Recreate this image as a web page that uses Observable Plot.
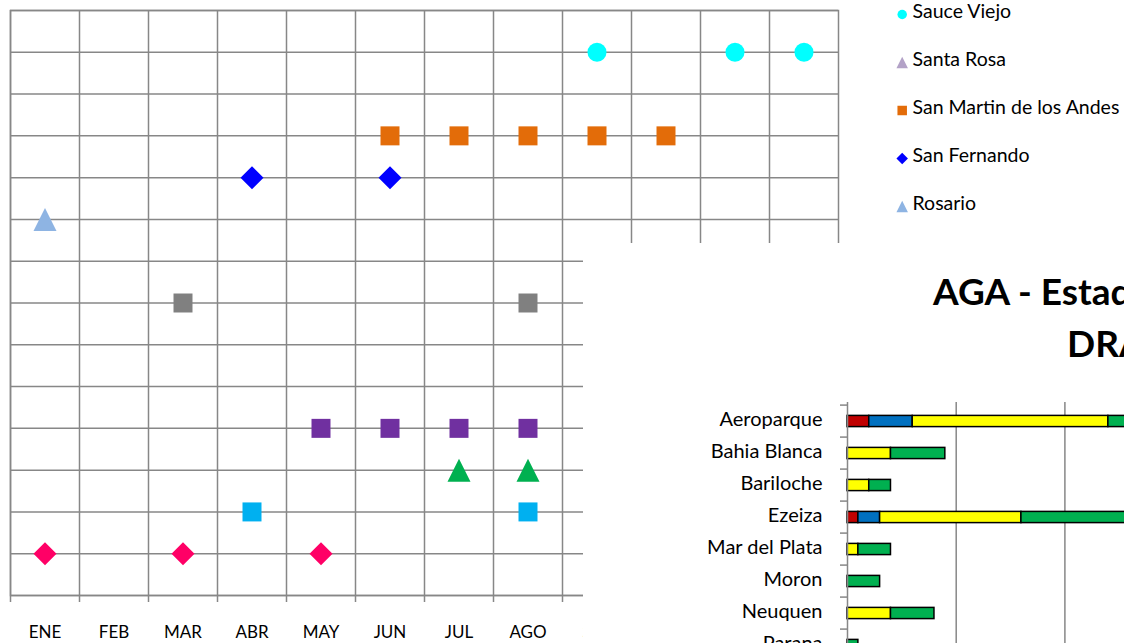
<!DOCTYPE html>
<html><head><meta charset="utf-8">
<script src="https://cdn.jsdelivr.net/npm/d3@7"></script>
<script src="https://cdn.jsdelivr.net/npm/@observablehq/plot@0.6"></script>
<style>
html,body{margin:0;padding:0;background:#fff;overflow:hidden}
#root{position:relative;width:1124px;height:643px;overflow:hidden;background:#fff;font-family:Lato,"Open Sans",sans-serif}
#root svg{position:absolute;left:0;top:0;font-family:Lato,"Open Sans",sans-serif;max-width:none !important;height:auto}
#scatter{position:absolute;left:0;top:0;width:860px;height:643px}
#legend{position:absolute;left:880px;top:0;width:244px;height:643px}
#panel{position:absolute;left:583px;top:243px;width:541px;height:400px;background:#fff}
#bars{position:absolute;left:0;top:0;width:760px;height:460px}
.t{position:absolute;font-family:Lato,sans-serif;font-weight:700;font-size:37px;white-space:nowrap;color:#000;line-height:1}
</style></head><body>
<div id="root"><div id="scatter"></div><div id="legend"></div><div id="panel"><div id="bars"></div><div class="t" id="t1"></div><div class="t" id="t2"></div></div></div>
<script>
// ---------- scatter chart data ----------
const months = ["ENE","FEB","MAR","ABR","MAY","JUN","JUL","AGO","SEP","OCT","NOV","DIC"];
const airports = ["Aeroparque","Bahia Blanca","Bariloche","Ezeiza","Mar del Plata","Moron","Neuquen","Parana","Rosario","San Fernando","San Martin de los Andes","Santa Rosa","Sauce Viejo"];
const airportRow = [1,2,3,4,5,6,7,8,9,10,11,12,13];
const airportColors = ["#FF0066","#00B0F0","#00B050","#7030A0","#FFC000","#C0504D","#808080","#4F81BD","#8EB4E3","#0000FF","#E36C09","#B3A2C7","#00FFFF"];
const airportShapes = ["diamond","square","triangle","square","diamond","circle","square","triangle","triangle","diamond","square","triangle","circle"];
const yTicks = [0,1,2,3,4,5,6,7,8,9,10,11,12,13,14];

const aeroparque = ["ENE","MAR","MAY"];
const bahiaBlanca = ["ABR","AGO"];
const bariloche = ["JUL","AGO"];
const ezeiza = ["MAY","JUN","JUL","AGO"];
const marDelPlata = [];
const moron = [];
const neuquen = ["MAR","AGO"];
const parana = [];
const rosario = ["ENE"];
const sanFernando = ["ABR","JUN"];
const sanMartin = ["JUN","JUL","AGO","SEP","OCT"];
const santaRosa = [];
const sauceViejo = ["SEP","NOV","DIC"];
const airportMonths = [aeroparque,bahiaBlanca,bariloche,ezeiza,marDelPlata,moron,neuquen,parana,rosario,sanFernando,sanMartin,santaRosa,sauceViejo];

// ---------- bar chart data ----------
const barCategories = ["Aeroparque","Bahia Blanca","Bariloche","Ezeiza","Mar del Plata","Moron","Neuquen","Parana"];
const barSeries = ["Categoria A","Categoria B","Categoria C","Categoria D"];
const barColors = ["#C00000","#0070C0","#FFFF00","#00B050"];
const serieA = [2,0,0,1,0,0,0,0];
const serieB = [4,0,0,2,0,0,0,0];
const serieC = [18,4,2,13,1,0,4,0];
const serieD = [14,5,2,16,3,3,4,1];
const barTicks = [0,10,20,30];
const titleLine1 = "AGA - Estadísticas de Aeródromos";
const titleLine2 = "DRA - Año";

// ---------- symbols (Excel-like) ----------
const shapeImpl = {
  circle: {draw(c, s){ const r = Math.sqrt(s/Math.PI)*0.95; c.moveTo(r,0); c.arc(0,0,r,0,2*Math.PI); c.closePath(); }},
  square: {draw(c, s){ const h = Math.sqrt(s/Math.PI)*0.95; c.rect(-h,-h,2*h,2*h); }},
  diamond: {draw(c, s){ const h = Math.sqrt(s/Math.PI)*1.15; c.moveTo(0,-h); c.lineTo(h,0); c.lineTo(0,h); c.lineTo(-h,0); c.closePath(); }},
  triangle: {draw(c, s){ const h = Math.sqrt(s/Math.PI)*1.15; c.moveTo(0,-h); c.lineTo(h,h); c.lineTo(-h,h); c.closePath(); }}
};
const symbolRange = airportShapes.map(k => shapeImpl[k]);

const points = [];
airports.forEach((a, i) => airportMonths[i].forEach(m => points.push({airport: a, month: m, row: airportRow[i]})));

const grid = "#878787";
const W1 = 860, mL = 10, mR = 22, mT = 10, mB = 48;
const step = (W1 - mL - mR) / months.length;

const scatter = Plot.plot({
  width: W1, height: 643, marginLeft: mL, marginRight: mR, marginTop: mT, marginBottom: mB,
  x: {type: "band", domain: months, padding: 0},
  y: {domain: [0, 14], axis: null},
  color: {domain: airports, range: airportColors},
  symbol: {domain: airports, range: symbolRange},
  marks: [
    Plot.ruleY(yTicks, {stroke: grid, strokeWidth: 1.5, strokeOpacity: 1}),
    Plot.ruleX(months, {x: d => d, dx: -step/2, stroke: grid, strokeWidth: 1.5, insetBottom: -7}),
    Plot.frame({stroke: grid, strokeWidth: 1.5}),
    Plot.axisX({tickSize: 0, tickPadding: 30, fontSize: 17, fill: "#000", label: null}),
    Plot.dot(points, {x: "month", y: "row", fill: "airport", symbol: "airport", r: 10, stroke: "none"})
  ]
});
document.getElementById("scatter").appendChild(scatter);

// legend (reverse order)
const legendOrder = airports.slice().reverse();
const legend = Plot.plot({
  width: 244, height: 643, margin: 0,
  x: {domain: [0, 1], axis: null},
  y: {type: "point", domain: legendOrder, padding: 0, range: [11, 11 + 48.5 * (legendOrder.length - 1)], axis: null},
  color: {domain: airports, range: airportColors},
  symbol: {domain: airports, range: symbolRange},
  marks: [
    Plot.dot(legendOrder, {y: d => d, frameAnchor: "left", dx: 21.7, fill: d => d, symbol: d => d, r: 5, stroke: "none"}),
    Plot.text(legendOrder, {y: d => d, text: d => d, frameAnchor: "left", dx: 32, dy: -2.5, textAnchor: "start", fontSize: 19.5, fill: "#000"})
  ]
});
document.getElementById("legend").appendChild(legend);

// bar chart
const barData = [];
const serieVals = [serieA, serieB, serieC, serieD];
barCategories.forEach((c, i) => barSeries.forEach((s, j) => { if (serieVals[j][i] > 0) barData.push({cat: c, serie: s, value: serieVals[j][i]}); }));
const pxUnit = 10.87, bandStep = 32.8, bL = 264, bT = 159;
const bars = Plot.plot({
  width: 760, height: 460, marginLeft: bL, marginTop: bT, marginBottom: 0, marginRight: 760 - bL - pxUnit * 40,
  x: {domain: [0, 40], axis: null},
  y: {type: "band", domain: barCategories, padding: 0, range: [bT, bT + bandStep * barCategories.length]},
  color: {domain: barSeries, range: barColors},
  marks: [
    Plot.ruleX(barTicks.slice(1), {stroke: grid, strokeWidth: 1.5}),
    Plot.barX(barData, Plot.stackX({x: "value", y: "cat", fill: "serie", order: barSeries, stroke: "#000", strokeWidth: 1.5, insetTop: 10.4, insetBottom: 10.4})),
    Plot.ruleX([0], {stroke: grid, strokeWidth: 1.5}),
    Plot.ruleY(barCategories, {y: d => d, x1: 0, x2: 0, insetLeft: -7, dy: -bandStep/2, stroke: grid, strokeWidth: 1.5}),
    Plot.axisY({tickSize: 0, tickPadding: 25, fontSize: 20, dy: -2, fill: "#000", label: null})
  ]
});
document.getElementById("bars").appendChild(bars);
const t1 = document.getElementById("t1"); t1.textContent = titleLine1; t1.style.left = "350px"; t1.style.top = "29px";
const t2 = document.getElementById("t2"); t2.textContent = titleLine2; t2.style.left = "484px"; t2.style.top = "81px";
</script></body></html>
